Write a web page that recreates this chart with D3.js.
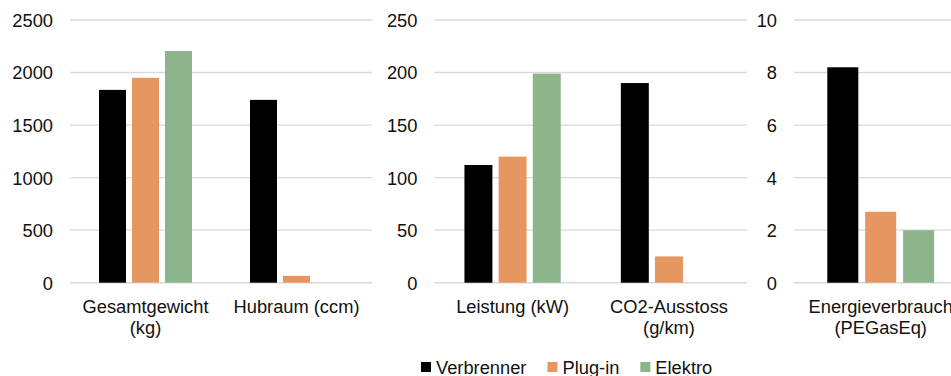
<!DOCTYPE html>
<html>
<head>
<meta charset="utf-8">
<script src="https://cdn.jsdelivr.net/npm/d3@7"></script>
<style>
  html, body { margin: 0; padding: 0; background: #ffffff; }
  svg { display: block; }
  text { font-family: "Liberation Sans", Arial, sans-serif; fill: #111; }
</style>
</head>
<body>
<svg id="chart" width="951" height="376"></svg>
<script>
// ---- data ----
const categories = ["Gesamtgewicht (kg)", "Hubraum (ccm)", "Leistung (kW)", "CO2-Ausstoss (g/km)", "Energieverbrauch (PEGasEq)"];
const categoryLabels = [["Gesamtgewicht", "(kg)"], ["Hubraum (ccm)"], ["Leistung (kW)"], ["CO2-Ausstoss", "(g/km)"], ["Energieverbrauch", "(PEGasEq)"]];
const seriesNames = ["Verbrenner", "Plug-in", "Elektro"];
const verbrenner = [1835, 1740, 112, 190, 8.2];
const plugin = [1950, 65, 120, 25, 2.7];
const elektro = [2205, 0, 199, 0, 2.0];
const panelCategories = [[0, 1], [2, 3], [4]];
const panelMax = [2500, 250, 10];
const panelTicks = [[0, 500, 1000, 1500, 2000, 2500], [0, 50, 100, 150, 200, 250], [0, 2, 4, 6, 8, 10]];

// ---- layout ----
const colors = {"Verbrenner": "#000000", "Plug-in": "#E59661", "Elektro": "#8CB58B"};
const panelX = [[70, 372], [434.4, 747.2], [794, 967.4]];
const yTop = 20, yBottom = 282.7;
const fontSize = 18.3;

const svg = d3.select("#chart");
const seriesValues = [verbrenner, plugin, elektro];

panelCategories.forEach((cats, p) => {
  const g = svg.append("g");
  const y = d3.scaleLinear().domain([0, panelMax[p]]).range([yBottom, yTop]);
  const [x0, x1] = panelX[p];
  const xCat = d3.scaleBand().domain(cats).range([x0, x1]).padding(0);
  const xSer = d3.scaleBand().domain(seriesNames).range([0, xCat.bandwidth()])
    .paddingInner(0.1818).paddingOuter(0.879);

  // gridlines
  g.append("g").selectAll("line").data(panelTicks[p]).join("line")
    .attr("x1", x0).attr("x2", x1)
    .attr("y1", d => y(d)).attr("y2", d => y(d))
    .attr("stroke", "#d9d9d9").attr("stroke-width", 1.4);

  // y axis via d3.axisLeft
  const axis = d3.axisLeft(y).tickValues(panelTicks[p]).tickSize(0).tickPadding(0)
    .tickFormat(d3.format("d"));
  const ag = g.append("g").attr("transform", `translate(${x0 - 17},0)`).call(axis);
  ag.select(".domain").remove();
  ag.selectAll("text").attr("font-size", fontSize).attr("font-family", "Liberation Sans, Arial, sans-serif")
    .attr("fill", "#111").attr("dy", "0.35em");

  // bars
  cats.forEach(ci => {
    const bg = g.append("g").attr("transform", `translate(${xCat(ci)},0)`);
    bg.selectAll("rect").data(seriesNames.map((s, si) => ({s, v: seriesValues[si][ci]}))).join("rect")
      .attr("x", d => xSer(d.s)).attr("width", xSer.bandwidth())
      .attr("y", d => y(d.v)).attr("height", d => yBottom - y(d.v))
      .attr("fill", d => colors[d.s]);

    // category label
    const cx = xCat(ci) + xCat.bandwidth() / 2;
    const t = g.append("text").attr("text-anchor", "middle").attr("font-size", fontSize);
    categoryLabels[ci].forEach((line, li) => {
      t.append("tspan").attr("x", cx).attr("y", 313 + li * 21).text(line);
    });
  });
});

// legend
const legend = svg.append("g");
let lx = 421;
seriesNames.forEach(s => {
  legend.append("rect").attr("x", lx).attr("y", 362).attr("width", 10).attr("height", 10).attr("fill", colors[s]);
  const t = legend.append("text").attr("x", lx + 15).attr("y", 373.5).attr("font-size", fontSize).text(s);
  lx = lx + 15 + t.node().getComputedTextLength() + 21;
});
</script>
</body>
</html>
